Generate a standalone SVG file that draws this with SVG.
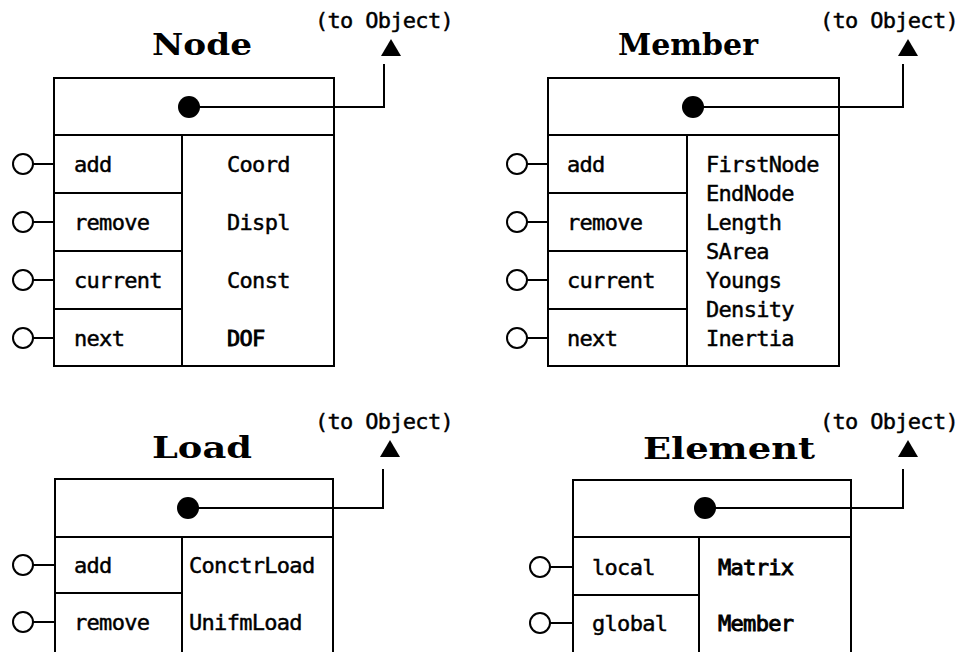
<svg xmlns="http://www.w3.org/2000/svg" width="960" height="652" viewBox="0 0 960 652">
  <style>
    .frame { fill: #fff; stroke: #000; stroke-width: 2; }
    .rule { stroke: #000; stroke-width: 2; fill: none; }
    .port { fill: #fff; stroke: #000; stroke-width: 2; }
    .dot { fill: #000; }
    .wire { stroke: #000; stroke-width: 2; fill: none; }
    .head { fill: #000; }
    .title { font-family: "DejaVu Serif", "Liberation Serif", serif; font-weight: bold; font-size: 29px; fill: #000; }
    .mono { font-family: "DejaVu Sans Mono", "Liberation Mono", monospace; font-size: 22px; letter-spacing: -0.7px; fill: #000; stroke: #000; stroke-width: 0.45; }
    .strong { stroke-width: 0.9; }
  </style>

  <rect width="960" height="652" fill="#fff"/>

  <!-- Node -->
  <g id="node-node">
    <text class="title" x="152" y="55" textLength="100" lengthAdjust="spacingAndGlyphs">Node</text>
    <rect class="frame" x="54" y="78" width="280" height="288"/>
    <line class="rule" x1="54" y1="135" x2="334" y2="135"/>
    <line class="rule" x1="182" y1="135" x2="182" y2="366"/>
    <line class="rule" x1="54" y1="193" x2="182" y2="193"/>
    <line class="rule" x1="54" y1="251" x2="182" y2="251"/>
    <line class="rule" x1="54" y1="309" x2="182" y2="309"/>
    <circle class="dot" cx="189" cy="107" r="11"/>
    <g class="ports">
      <line class="rule" x1="33" y1="164" x2="54" y2="164"/><circle class="port" cx="23" cy="164" r="10"/>
      <line class="rule" x1="33" y1="222" x2="54" y2="222"/><circle class="port" cx="23" cy="222" r="10"/>
      <line class="rule" x1="33" y1="280" x2="54" y2="280"/><circle class="port" cx="23" cy="280" r="10"/>
      <line class="rule" x1="33" y1="338" x2="54" y2="338"/><circle class="port" cx="23" cy="338" r="10"/>
    </g>
    <text class="mono" x="74" y="172">add</text>
    <text class="mono" x="74" y="230">remove</text>
    <text class="mono" x="74" y="288">current</text>
    <text class="mono" x="74" y="346">next</text>
    <text class="mono" x="227" y="172">Coord</text>
    <text class="mono" x="227" y="230">Displ</text>
    <text class="mono" x="227" y="288">Const</text>
    <text class="mono strong" x="227" y="346">DOF</text>
  </g>

  <!-- Member -->
  <g id="node-member">
    <text class="title" x="618" y="55" textLength="140" lengthAdjust="spacingAndGlyphs">Member</text>
    <rect class="frame" x="548" y="78" width="291" height="288"/>
    <line class="rule" x1="548" y1="135" x2="839" y2="135"/>
    <line class="rule" x1="687" y1="135" x2="687" y2="366"/>
    <line class="rule" x1="548" y1="193" x2="687" y2="193"/>
    <line class="rule" x1="548" y1="251" x2="687" y2="251"/>
    <line class="rule" x1="548" y1="309" x2="687" y2="309"/>
    <circle class="dot" cx="693" cy="107" r="11"/>
    <g class="ports">
      <line class="rule" x1="527" y1="164" x2="548" y2="164"/><circle class="port" cx="517" cy="164" r="10"/>
      <line class="rule" x1="527" y1="222" x2="548" y2="222"/><circle class="port" cx="517" cy="222" r="10"/>
      <line class="rule" x1="527" y1="280" x2="548" y2="280"/><circle class="port" cx="517" cy="280" r="10"/>
      <line class="rule" x1="527" y1="338" x2="548" y2="338"/><circle class="port" cx="517" cy="338" r="10"/>
    </g>
    <text class="mono" x="567" y="172">add</text>
    <text class="mono" x="567" y="230">remove</text>
    <text class="mono" x="567" y="288">current</text>
    <text class="mono" x="567" y="346">next</text>
    <text class="mono" x="706" y="172">FirstNode</text>
    <text class="mono" x="706" y="201">EndNode</text>
    <text class="mono" x="706" y="230">Length</text>
    <text class="mono" x="706" y="259">SArea</text>
    <text class="mono" x="706" y="288">Youngs</text>
    <text class="mono" x="706" y="317">Density</text>
    <text class="mono" x="706" y="346">Inertia</text>
  </g>

  <!-- Load -->
  <g id="node-load">
    <text class="title" x="152" y="458" textLength="100" lengthAdjust="spacingAndGlyphs">Load</text>
    <rect class="frame" x="55" y="479" width="278" height="180"/>
    <line class="rule" x1="55" y1="537" x2="333" y2="537"/>
    <line class="rule" x1="182" y1="537" x2="182" y2="660"/>
    <line class="rule" x1="55" y1="593" x2="182" y2="593"/>
    <circle class="dot" cx="188" cy="508" r="11"/>
    <g class="ports">
      <line class="rule" x1="33" y1="565" x2="55" y2="565"/><circle class="port" cx="23" cy="565" r="10"/>
      <line class="rule" x1="33" y1="622" x2="55" y2="622"/><circle class="port" cx="23" cy="622" r="10"/>
    </g>
    <text class="mono" x="74" y="573">add</text>
    <text class="mono" x="74" y="630">remove</text>
    <text class="mono" x="189" y="573">ConctrLoad</text>
    <text class="mono" x="189" y="630">UnifmLoad</text>
  </g>

  <!-- Element -->
  <g id="node-element">
    <text class="title" x="643" y="459" textLength="172" lengthAdjust="spacingAndGlyphs">Element</text>
    <rect class="frame" x="573" y="480" width="278" height="180"/>
    <line class="rule" x1="573" y1="537" x2="851" y2="537"/>
    <line class="rule" x1="699" y1="537" x2="699" y2="660"/>
    <line class="rule" x1="573" y1="595" x2="699" y2="595"/>
    <circle class="dot" cx="705" cy="508" r="11"/>
    <g class="ports">
      <line class="rule" x1="550" y1="567" x2="573" y2="567"/><circle class="port" cx="540" cy="567" r="10"/>
      <line class="rule" x1="550" y1="623" x2="573" y2="623"/><circle class="port" cx="540" cy="623" r="10"/>
    </g>
    <text class="mono" x="592" y="575">local</text>
    <text class="mono" x="592" y="631">global</text>
    <text class="mono strong" x="718" y="575">Matrix</text>
    <text class="mono strong" x="718" y="631">Member</text>
  </g>

  <!-- Links to the parent Object -->
  <g id="connectors">
    <polyline class="wire" points="189,107 384,107 384,64"/>
    <polygon class="head" points="391,39 381,56 401,56"/>
    <text class="mono" x="315" y="28">(to Object)</text>

    <polyline class="wire" points="693,107 903,107 903,64"/>
    <polygon class="head" points="908,39 898,56 918,56"/>
    <text class="mono" x="820" y="28">(to Object)</text>

    <polyline class="wire" points="188,508 383,508 383,469"/>
    <polygon class="head" points="390,440 380,457 400,457"/>
    <text class="mono" x="315" y="429">(to Object)</text>

    <polyline class="wire" points="705,508 903,508 903,469"/>
    <polygon class="head" points="908,440 898,457 918,457"/>
    <text class="mono" x="820" y="429">(to Object)</text>
  </g>
</svg>
